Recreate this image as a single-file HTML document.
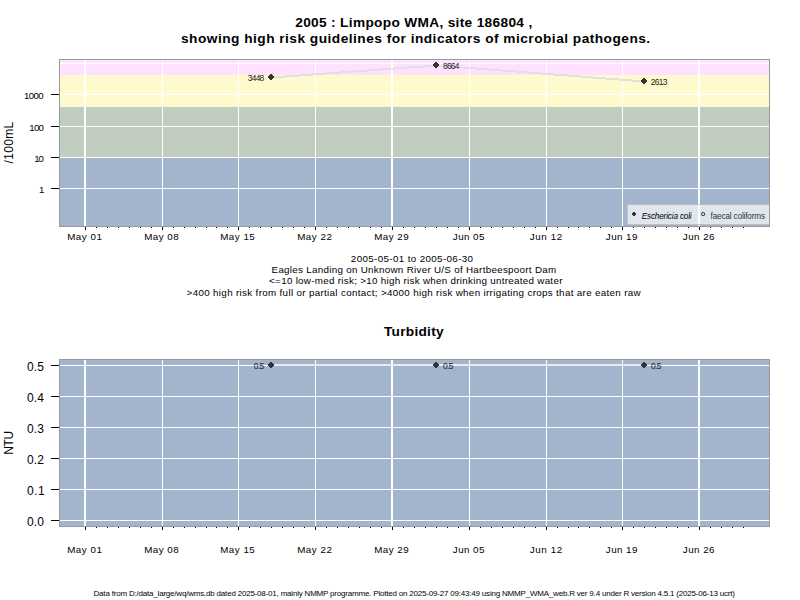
<!DOCTYPE html>
<html><head><meta charset="utf-8"><title>Limpopo WMA</title>
<style>html,body{margin:0;padding:0;background:#fff;}body{width:800px;height:600px;overflow:hidden;}svg{display:block;}text{font-family:"Liberation Sans",sans-serif;}</style>
</head><body>
<svg width="800" height="600" viewBox="0 0 800 600">
<rect x="0" y="0" width="800" height="600" fill="#ffffff"/>
<g shape-rendering="crispEdges">
<rect x="59" y="59" width="711" height="16" fill="#FFE1FF"/>
<rect x="59" y="75" width="711" height="32" fill="#FFFACD"/>
<rect x="59" y="107" width="711" height="51" fill="#C1CDC1"/>
<rect x="59" y="158" width="711" height="69" fill="#A2B5CD"/>
<rect x="59" y="63" width="711" height="1" fill="#fff"/>
<rect x="59" y="94" width="711" height="1" fill="#fff"/>
<rect x="59" y="126" width="711" height="1" fill="#fff"/>
<rect x="59" y="157" width="711" height="1" fill="#fff"/>
<rect x="59" y="188" width="711" height="1" fill="#fff"/>
<rect x="84" y="59" width="2" height="168" fill="#fff"/>
<rect x="162" y="59" width="1" height="168" fill="#fff"/>
<rect x="238" y="59" width="1" height="168" fill="#fff"/>
<rect x="315" y="59" width="1" height="168" fill="#fff"/>
<rect x="391" y="59" width="2" height="168" fill="#fff"/>
<rect x="469" y="59" width="1" height="168" fill="#fff"/>
<rect x="546" y="59" width="1" height="168" fill="#fff"/>
<rect x="622" y="59" width="1" height="168" fill="#fff"/>
<rect x="698" y="59" width="2" height="168" fill="#fff"/>
<polyline points="271.5,77.49 436.5,65.49 644.5,81.49" fill="none" stroke="#E0E0E0" stroke-width="2"/>
<rect x="270" y="74" width="2" height="1" fill="#333333"/>
<rect x="269" y="75" width="4" height="1" fill="#333333"/>
<rect x="268" y="76" width="6" height="1" fill="#333333"/>
<rect x="268" y="77" width="6" height="1" fill="#333333"/>
<rect x="269" y="78" width="4" height="1" fill="#333333"/>
<rect x="270" y="79" width="2" height="1" fill="#333333"/>
<rect x="435" y="62" width="2" height="1" fill="#333333"/>
<rect x="434" y="63" width="4" height="1" fill="#333333"/>
<rect x="433" y="64" width="6" height="1" fill="#333333"/>
<rect x="433" y="65" width="6" height="1" fill="#333333"/>
<rect x="434" y="66" width="4" height="1" fill="#333333"/>
<rect x="435" y="67" width="2" height="1" fill="#333333"/>
<rect x="643" y="78" width="2" height="1" fill="#333333"/>
<rect x="642" y="79" width="4" height="1" fill="#333333"/>
<rect x="641" y="80" width="6" height="1" fill="#333333"/>
<rect x="641" y="81" width="6" height="1" fill="#333333"/>
<rect x="642" y="82" width="4" height="1" fill="#333333"/>
<rect x="643" y="83" width="2" height="1" fill="#333333"/>
<rect x="627.5" y="204.5" width="142" height="20" fill="#ffffff" fill-opacity="0.66" stroke="#BEBEBE" stroke-width="1"/>
<rect x="59.5" y="59.5" width="710" height="167" fill="none" stroke="#999999" stroke-width="1"/>
<rect x="51" y="94" width="8" height="1" fill="#000"/>
<rect x="51" y="126" width="8" height="1" fill="#000"/>
<rect x="51" y="157" width="8" height="1" fill="#000"/>
<rect x="51" y="188" width="8" height="1" fill="#000"/>
<rect x="85" y="227" width="1" height="3" fill="#000"/>
<rect x="162" y="227" width="1" height="3" fill="#000"/>
<rect x="238" y="227" width="1" height="3" fill="#000"/>
<rect x="315" y="227" width="1" height="3" fill="#000"/>
<rect x="392" y="227" width="1" height="3" fill="#000"/>
<rect x="469" y="227" width="1" height="3" fill="#000"/>
<rect x="546" y="227" width="1" height="3" fill="#000"/>
<rect x="622" y="227" width="1" height="3" fill="#000"/>
<rect x="699" y="227" width="1" height="3" fill="#000"/>
<rect x="96" y="227" width="1" height="1" fill="#000"/>
<rect x="107" y="227" width="1" height="1" fill="#000"/>
<rect x="118" y="227" width="1" height="1" fill="#000"/>
<rect x="129" y="227" width="1" height="1" fill="#000"/>
<rect x="140" y="227" width="1" height="1" fill="#000"/>
<rect x="151" y="227" width="1" height="1" fill="#000"/>
<rect x="173" y="227" width="1" height="1" fill="#000"/>
<rect x="184" y="227" width="1" height="1" fill="#000"/>
<rect x="195" y="227" width="1" height="1" fill="#000"/>
<rect x="206" y="227" width="1" height="1" fill="#000"/>
<rect x="216" y="227" width="1" height="1" fill="#000"/>
<rect x="227" y="227" width="1" height="1" fill="#000"/>
<rect x="249" y="227" width="1" height="1" fill="#000"/>
<rect x="260" y="227" width="1" height="1" fill="#000"/>
<rect x="271" y="227" width="1" height="1" fill="#000"/>
<rect x="282" y="227" width="1" height="1" fill="#000"/>
<rect x="293" y="227" width="1" height="1" fill="#000"/>
<rect x="304" y="227" width="1" height="1" fill="#000"/>
<rect x="326" y="227" width="1" height="1" fill="#000"/>
<rect x="337" y="227" width="1" height="1" fill="#000"/>
<rect x="348" y="227" width="1" height="1" fill="#000"/>
<rect x="359" y="227" width="1" height="1" fill="#000"/>
<rect x="370" y="227" width="1" height="1" fill="#000"/>
<rect x="381" y="227" width="1" height="1" fill="#000"/>
<rect x="403" y="227" width="1" height="1" fill="#000"/>
<rect x="414" y="227" width="1" height="1" fill="#000"/>
<rect x="425" y="227" width="1" height="1" fill="#000"/>
<rect x="436" y="227" width="1" height="1" fill="#000"/>
<rect x="447" y="227" width="1" height="1" fill="#000"/>
<rect x="458" y="227" width="1" height="1" fill="#000"/>
<rect x="480" y="227" width="1" height="1" fill="#000"/>
<rect x="491" y="227" width="1" height="1" fill="#000"/>
<rect x="502" y="227" width="1" height="1" fill="#000"/>
<rect x="513" y="227" width="1" height="1" fill="#000"/>
<rect x="524" y="227" width="1" height="1" fill="#000"/>
<rect x="535" y="227" width="1" height="1" fill="#000"/>
<rect x="557" y="227" width="1" height="1" fill="#000"/>
<rect x="568" y="227" width="1" height="1" fill="#000"/>
<rect x="578" y="227" width="1" height="1" fill="#000"/>
<rect x="589" y="227" width="1" height="1" fill="#000"/>
<rect x="600" y="227" width="1" height="1" fill="#000"/>
<rect x="611" y="227" width="1" height="1" fill="#000"/>
<rect x="633" y="227" width="1" height="1" fill="#000"/>
<rect x="644" y="227" width="1" height="1" fill="#000"/>
<rect x="655" y="227" width="1" height="1" fill="#000"/>
<rect x="666" y="227" width="1" height="1" fill="#000"/>
<rect x="677" y="227" width="1" height="1" fill="#000"/>
<rect x="688" y="227" width="1" height="1" fill="#000"/>
<rect x="710" y="227" width="1" height="1" fill="#000"/>
<rect x="721" y="227" width="1" height="1" fill="#000"/>
<rect x="732" y="227" width="1" height="1" fill="#000"/>
<rect x="743" y="227" width="1" height="1" fill="#000"/>
<rect x="633" y="212" width="2" height="1" fill="#333"/>
<rect x="632" y="213" width="4" height="1" fill="#333"/>
<rect x="632" y="214" width="4" height="1" fill="#333"/>
<rect x="633" y="215" width="2" height="1" fill="#333"/>
</g>
<circle cx="703.1" cy="214.1" r="1.6" fill="none" stroke="#222" stroke-width="0.9"/>
<g shape-rendering="crispEdges">
<rect x="59" y="359" width="711" height="168" fill="#A2B5CD"/>
<rect x="59" y="365" width="711" height="1" fill="#fff"/>
<rect x="59" y="396" width="711" height="1" fill="#fff"/>
<rect x="59" y="427" width="711" height="1" fill="#fff"/>
<rect x="59" y="458" width="711" height="1" fill="#fff"/>
<rect x="59" y="489" width="711" height="1" fill="#fff"/>
<rect x="59" y="520" width="711" height="1" fill="#fff"/>
<rect x="84" y="359" width="2" height="168" fill="#fff"/>
<rect x="162" y="359" width="1" height="168" fill="#fff"/>
<rect x="238" y="359" width="1" height="168" fill="#fff"/>
<rect x="315" y="359" width="1" height="168" fill="#fff"/>
<rect x="391" y="359" width="2" height="168" fill="#fff"/>
<rect x="469" y="359" width="1" height="168" fill="#fff"/>
<rect x="546" y="359" width="1" height="168" fill="#fff"/>
<rect x="622" y="359" width="1" height="168" fill="#fff"/>
<rect x="698" y="359" width="2" height="168" fill="#fff"/>
<rect x="271" y="364" width="373" height="2" fill="#EAEAEA"/>
<rect x="270" y="362" width="2" height="1" fill="#333333"/>
<rect x="269" y="363" width="4" height="1" fill="#333333"/>
<rect x="268" y="364" width="6" height="1" fill="#333333"/>
<rect x="268" y="365" width="6" height="1" fill="#333333"/>
<rect x="269" y="366" width="4" height="1" fill="#333333"/>
<rect x="270" y="367" width="2" height="1" fill="#333333"/>
<rect x="435" y="362" width="2" height="1" fill="#333333"/>
<rect x="434" y="363" width="4" height="1" fill="#333333"/>
<rect x="433" y="364" width="6" height="1" fill="#333333"/>
<rect x="433" y="365" width="6" height="1" fill="#333333"/>
<rect x="434" y="366" width="4" height="1" fill="#333333"/>
<rect x="435" y="367" width="2" height="1" fill="#333333"/>
<rect x="643" y="362" width="2" height="1" fill="#333333"/>
<rect x="642" y="363" width="4" height="1" fill="#333333"/>
<rect x="641" y="364" width="6" height="1" fill="#333333"/>
<rect x="641" y="365" width="6" height="1" fill="#333333"/>
<rect x="642" y="366" width="4" height="1" fill="#333333"/>
<rect x="643" y="367" width="2" height="1" fill="#333333"/>
<rect x="59.5" y="359.5" width="710" height="167" fill="none" stroke="#999999" stroke-width="1"/>
<rect x="51" y="365" width="8" height="1" fill="#000"/>
<rect x="51" y="396" width="8" height="1" fill="#000"/>
<rect x="51" y="427" width="8" height="1" fill="#000"/>
<rect x="51" y="458" width="8" height="1" fill="#000"/>
<rect x="51" y="489" width="8" height="1" fill="#000"/>
<rect x="51" y="520" width="8" height="1" fill="#000"/>
<rect x="85" y="527" width="1" height="3" fill="#000"/>
<rect x="162" y="527" width="1" height="3" fill="#000"/>
<rect x="238" y="527" width="1" height="3" fill="#000"/>
<rect x="315" y="527" width="1" height="3" fill="#000"/>
<rect x="392" y="527" width="1" height="3" fill="#000"/>
<rect x="469" y="527" width="1" height="3" fill="#000"/>
<rect x="546" y="527" width="1" height="3" fill="#000"/>
<rect x="622" y="527" width="1" height="3" fill="#000"/>
<rect x="699" y="527" width="1" height="3" fill="#000"/>
<rect x="96" y="527" width="1" height="1" fill="#000"/>
<rect x="107" y="527" width="1" height="1" fill="#000"/>
<rect x="118" y="527" width="1" height="1" fill="#000"/>
<rect x="129" y="527" width="1" height="1" fill="#000"/>
<rect x="140" y="527" width="1" height="1" fill="#000"/>
<rect x="151" y="527" width="1" height="1" fill="#000"/>
<rect x="173" y="527" width="1" height="1" fill="#000"/>
<rect x="184" y="527" width="1" height="1" fill="#000"/>
<rect x="195" y="527" width="1" height="1" fill="#000"/>
<rect x="206" y="527" width="1" height="1" fill="#000"/>
<rect x="216" y="527" width="1" height="1" fill="#000"/>
<rect x="227" y="527" width="1" height="1" fill="#000"/>
<rect x="249" y="527" width="1" height="1" fill="#000"/>
<rect x="260" y="527" width="1" height="1" fill="#000"/>
<rect x="271" y="527" width="1" height="1" fill="#000"/>
<rect x="282" y="527" width="1" height="1" fill="#000"/>
<rect x="293" y="527" width="1" height="1" fill="#000"/>
<rect x="304" y="527" width="1" height="1" fill="#000"/>
<rect x="326" y="527" width="1" height="1" fill="#000"/>
<rect x="337" y="527" width="1" height="1" fill="#000"/>
<rect x="348" y="527" width="1" height="1" fill="#000"/>
<rect x="359" y="527" width="1" height="1" fill="#000"/>
<rect x="370" y="527" width="1" height="1" fill="#000"/>
<rect x="381" y="527" width="1" height="1" fill="#000"/>
<rect x="403" y="527" width="1" height="1" fill="#000"/>
<rect x="414" y="527" width="1" height="1" fill="#000"/>
<rect x="425" y="527" width="1" height="1" fill="#000"/>
<rect x="436" y="527" width="1" height="1" fill="#000"/>
<rect x="447" y="527" width="1" height="1" fill="#000"/>
<rect x="458" y="527" width="1" height="1" fill="#000"/>
<rect x="480" y="527" width="1" height="1" fill="#000"/>
<rect x="491" y="527" width="1" height="1" fill="#000"/>
<rect x="502" y="527" width="1" height="1" fill="#000"/>
<rect x="513" y="527" width="1" height="1" fill="#000"/>
<rect x="524" y="527" width="1" height="1" fill="#000"/>
<rect x="535" y="527" width="1" height="1" fill="#000"/>
<rect x="557" y="527" width="1" height="1" fill="#000"/>
<rect x="568" y="527" width="1" height="1" fill="#000"/>
<rect x="578" y="527" width="1" height="1" fill="#000"/>
<rect x="589" y="527" width="1" height="1" fill="#000"/>
<rect x="600" y="527" width="1" height="1" fill="#000"/>
<rect x="611" y="527" width="1" height="1" fill="#000"/>
<rect x="633" y="527" width="1" height="1" fill="#000"/>
<rect x="644" y="527" width="1" height="1" fill="#000"/>
<rect x="655" y="527" width="1" height="1" fill="#000"/>
<rect x="666" y="527" width="1" height="1" fill="#000"/>
<rect x="677" y="527" width="1" height="1" fill="#000"/>
<rect x="688" y="527" width="1" height="1" fill="#000"/>
<rect x="710" y="527" width="1" height="1" fill="#000"/>
<rect x="721" y="527" width="1" height="1" fill="#000"/>
<rect x="732" y="527" width="1" height="1" fill="#000"/>
<rect x="743" y="527" width="1" height="1" fill="#000"/>
</g>
<text x="295.24" y="26.60" font-size="13.7" font-weight="bold" fill="#000" textLength="236.98" lengthAdjust="spacing">2005 : Limpopo WMA, site 186804 ,</text>
<text x="180.98" y="43.40" font-size="13.7" font-weight="bold" fill="#000" textLength="469.19" lengthAdjust="spacing">showing high risk guidelines for indicators of microbial pathogens.</text>
<text x="383.97" y="335.80" font-size="13.7" font-weight="bold" fill="#000" textLength="59.66" lengthAdjust="spacing">Turbidity</text>
<text x="350.85" y="261.50" font-size="9.8" fill="#000" textLength="122.16" lengthAdjust="spacing">2005-05-01 to 2005-06-30</text>
<text x="271.55" y="272.90" font-size="9.8" fill="#000" textLength="284.62" lengthAdjust="spacing">Eagles Landing on Unknown River U/S of Hartbeespoort Dam</text>
<text x="269.10" y="284.30" font-size="9.8" fill="#000" textLength="293.30" lengthAdjust="spacing">&lt;=10 low-med risk; &gt;10 high risk when drinking untreated water</text>
<text x="186.62" y="295.70" font-size="9.8" fill="#000" textLength="454.02" lengthAdjust="spacing">&gt;400 high risk from full or partial contact; &gt;4000 high risk when irrigating crops that are eaten raw</text>
<text x="93.53" y="595.60" font-size="8.0" fill="#000" textLength="641.34" lengthAdjust="spacing">Data from D:/data_large/wq/wms.db dated 2025-08-01, mainly NMMP programme. Plotted on 2025-09-27 09:43:49 using NMMP_WMA_web.R ver 9.4 under R version 4.5.1 (2025-06-13 ucrt)</text>
<text x="67.17" y="239.90" font-size="9.8" fill="#000" textLength="34.82" lengthAdjust="spacing">May 01</text>
<text x="144.17" y="239.90" font-size="9.8" fill="#000" textLength="34.55" lengthAdjust="spacing">May 08</text>
<text x="220.17" y="239.90" font-size="9.8" fill="#000" textLength="34.60" lengthAdjust="spacing">May 15</text>
<text x="297.17" y="239.90" font-size="9.8" fill="#000" textLength="34.68" lengthAdjust="spacing">May 22</text>
<text x="374.17" y="239.90" font-size="9.8" fill="#000" textLength="34.54" lengthAdjust="spacing">May 29</text>
<text x="452.82" y="239.90" font-size="9.8" fill="#000" textLength="31.65" lengthAdjust="spacing">Jun 05</text>
<text x="529.82" y="239.90" font-size="9.8" fill="#000" textLength="32.30" lengthAdjust="spacing">Jun 12</text>
<text x="605.82" y="239.90" font-size="9.8" fill="#000" textLength="31.64" lengthAdjust="spacing">Jun 19</text>
<text x="682.82" y="239.90" font-size="9.8" fill="#000" textLength="31.66" lengthAdjust="spacing">Jun 26</text>
<text x="67.17" y="552.90" font-size="9.8" fill="#000" textLength="34.82" lengthAdjust="spacing">May 01</text>
<text x="144.17" y="552.90" font-size="9.8" fill="#000" textLength="34.55" lengthAdjust="spacing">May 08</text>
<text x="220.17" y="552.90" font-size="9.8" fill="#000" textLength="34.60" lengthAdjust="spacing">May 15</text>
<text x="297.17" y="552.90" font-size="9.8" fill="#000" textLength="34.68" lengthAdjust="spacing">May 22</text>
<text x="374.17" y="552.90" font-size="9.8" fill="#000" textLength="34.54" lengthAdjust="spacing">May 29</text>
<text x="452.82" y="552.90" font-size="9.8" fill="#000" textLength="31.65" lengthAdjust="spacing">Jun 05</text>
<text x="529.82" y="552.90" font-size="9.8" fill="#000" textLength="32.30" lengthAdjust="spacing">Jun 12</text>
<text x="605.82" y="552.90" font-size="9.8" fill="#000" textLength="31.64" lengthAdjust="spacing">Jun 19</text>
<text x="682.82" y="552.90" font-size="9.8" fill="#000" textLength="31.66" lengthAdjust="spacing">Jun 26</text>
<text x="24.10" y="98.90" font-size="9.7" fill="#000" textLength="19.61" lengthAdjust="spacing">1000</text>
<text x="29.35" y="130.90" font-size="9.7" fill="#000" textLength="14.62" lengthAdjust="spacing">100</text>
<text x="34.20" y="161.90" font-size="9.7" fill="#000" textLength="9.58" lengthAdjust="spacing">10</text>
<text x="39.00" y="192.90" font-size="9.7" fill="#000" textLength="5.57" lengthAdjust="spacing">1</text>
<text x="27.00" y="370.80" font-size="12" fill="#000" textLength="16.85" lengthAdjust="spacing">0.5</text>
<text x="27.00" y="401.80" font-size="12" fill="#000" textLength="16.87" lengthAdjust="spacing">0.4</text>
<text x="27.00" y="432.80" font-size="12" fill="#000" textLength="16.87" lengthAdjust="spacing">0.3</text>
<text x="27.00" y="463.80" font-size="12" fill="#000" textLength="16.87" lengthAdjust="spacing">0.2</text>
<text x="27.00" y="494.80" font-size="12" fill="#000" textLength="17.76" lengthAdjust="spacing">0.1</text>
<text x="27.00" y="525.80" font-size="12" fill="#000" textLength="16.83" lengthAdjust="spacing">0.0</text>
<text x="247.74" y="80.85" font-size="8.4" fill="#222222" textLength="16.55" lengthAdjust="spacing">3448</text>
<text x="442.98" y="68.90" font-size="8.4" fill="#222222" textLength="16.41" lengthAdjust="spacing">8664</text>
<text x="650.70" y="84.90" font-size="8.4" fill="#222222" textLength="16.60" lengthAdjust="spacing">2613</text>
<text x="253.79" y="368.90" font-size="8.4" fill="#222222" textLength="10.47" lengthAdjust="spacing">0.5</text>
<text x="442.89" y="368.90" font-size="8.4" fill="#222222" textLength="10.62" lengthAdjust="spacing">0.5</text>
<text x="650.89" y="368.90" font-size="8.4" fill="#222222" textLength="10.62" lengthAdjust="spacing">0.5</text>
<text x="641.71" y="219.00" font-size="8.2" font-style="italic" fill="#000" textLength="49.97" lengthAdjust="spacing">Eschericia coli</text>
<text x="710.57" y="218.80" font-size="8.2" fill="#333" textLength="54.46" lengthAdjust="spacing">faecal coliforms</text>
<text transform="translate(13.30,163.46) rotate(-90)" font-size="12" fill="#000" textLength="41.78" lengthAdjust="spacing">/100mL</text>
<text transform="translate(13.30,454.73) rotate(-90)" font-size="12" fill="#000" textLength="23.81" lengthAdjust="spacing">NTU</text>
</svg></body></html>
